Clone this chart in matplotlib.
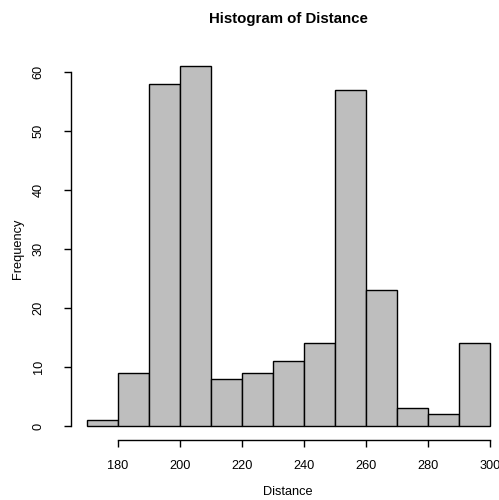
import numpy as np
import matplotlib
matplotlib.use("Agg")
import matplotlib.pyplot as plt

# bin edges and counts
bin_edges = [170, 180, 190, 200, 210, 220, 230, 240, 250, 260, 270, 280, 290, 300]
counts = [1, 9, 58, 61, 8, 9, 11, 14, 57, 23, 3, 2, 14]
x_ticks = [180, 200, 220, 240, 260, 280, 300]
y_ticks = [0, 10, 20, 30, 40, 50, 60]

W, H = 499, 500
fig = plt.figure(figsize=(W / 100, H / 100), dpi=100)
plt.rcParams["font.family"] = ["Liberation Sans", "DejaVu Sans"]

# plot region in pixels (R default margins, right side cut off)
left, right, top, bottom = 70.9, 506.1, 51.7, 440.4
ax = fig.add_axes([left / W, 1 - bottom / H, (right - left) / W, (bottom - top) / H])

widths = np.diff(bin_edges)
ax.bar(bin_edges[:-1], counts, width=widths, align="edge",
       color="#bebebe", edgecolor="black", linewidth=1.0)

xr = bin_edges[-1] - bin_edges[0]
ax.set_xlim(bin_edges[0] - 0.04 * xr, bin_edges[-1] + 0.04 * xr)
ym = max(counts)
ax.set_ylim(-0.04 * ym, ym * 1.04)

for s in ["top", "right"]:
    ax.spines[s].set_visible(False)
ax.spines["left"].set_bounds(0, 60)
ax.spines["bottom"].set_bounds(180, 300)
ax.spines["left"].set_linewidth(1.0)
ax.spines["bottom"].set_linewidth(1.0)

ax.set_xticks(x_ticks)
ax.set_yticks(y_ticks)
ax.set_yticklabels([str(v) for v in y_ticks], rotation=90, va="center")
ax.tick_params(axis="both", length=5, width=1.0, labelsize=9.2)
ax.tick_params(axis="y", pad=14)
ax.tick_params(axis="x", pad=9)

fig.text(288 / W, 1 - 19 / H, "Histogram of Distance", ha="center", va="center",
         fontsize=10.8, fontweight="bold")
fig.text(288 / W, 1 - 492 / H, "Distance", ha="center", va="center", fontsize=9.2)
fig.text(18 / W, 1 - 249 / H, "Frequency", ha="center", va="center",
         rotation=90, fontsize=9.2)

fig.savefig("out.png", dpi=100)
